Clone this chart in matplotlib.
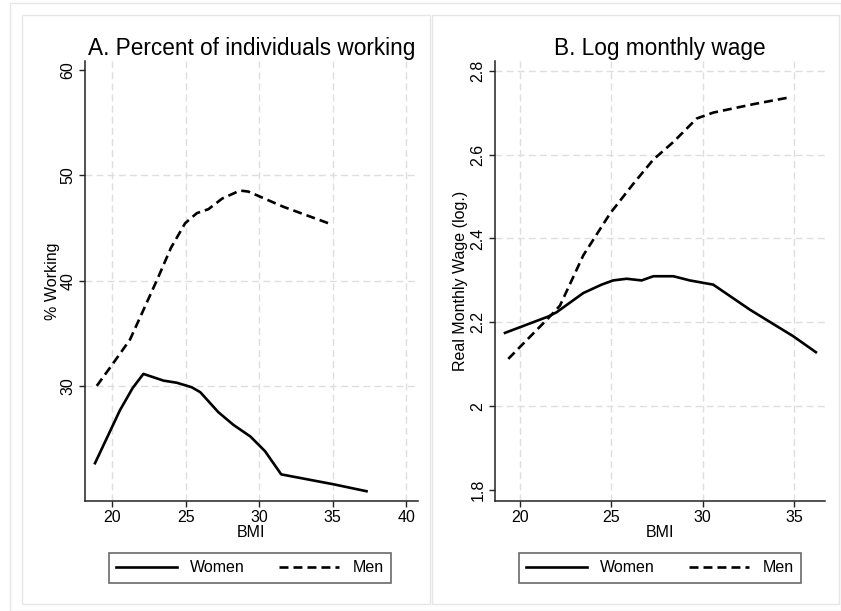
import matplotlib
matplotlib.use("Agg")
import matplotlib.pyplot as plt
from matplotlib.lines import Line2D
from matplotlib.patches import Rectangle

plt.rcParams['font.family'] = ['Liberation Sans', 'DejaVu Sans']

# panel A: percent working by BMI
bmi_w_a = [18.84, 20.54, 21.4, 22.13, 23.5, 24.4, 25.42, 26.0, 27.23, 28.25, 29.4, 30.4, 31.5, 35.05, 37.3]
work_w = [22.66, 27.7, 29.8, 31.14, 30.5, 30.3, 29.87, 29.4, 27.5, 26.3, 25.2, 23.8, 21.6, 20.66, 20.0]
bmi_m_a = [18.96, 20.0, 21.22, 22.13, 23.1, 24.0, 24.97, 25.76, 26.55, 27.5, 28.7, 29.27, 31.66, 34.7]
work_m = [30.0, 32.0, 34.4, 37.2, 40.2, 43.1, 45.45, 46.4, 46.78, 47.8, 48.55, 48.45, 47.0, 45.45]

# panel B: log monthly wage by BMI
bmi_w_b = [19.18, 21.55, 22.0, 22.19, 23.47, 24.47, 25.1, 25.84, 26.66, 27.3, 28.4, 29.3, 30.58, 32.6, 34.96, 36.2]
wage_w = [2.175, 2.214, 2.224, 2.23, 2.27, 2.29, 2.30, 2.304, 2.30, 2.31, 2.31, 2.30, 2.29, 2.23, 2.167, 2.129]
bmi_m_b = [19.36, 21.55, 22.19, 23.47, 24.94, 26.2, 27.3, 28.4, 29.68, 30.58, 32.77, 34.6]
wage_m = [2.113, 2.21, 2.24, 2.36, 2.46, 2.53, 2.588, 2.63, 2.686, 2.70, 2.72, 2.735]

W, H = 841, 611
fig = plt.figure(figsize=(W / 100, H / 100), dpi=100)
fig.patch.set_facecolor('white')

# faint frames around the figure and the two panels
border = '#e6e6e6'
for (x0, y0, x1, y1) in [(10, 3, 841, 611), (22, 15, 430, 604), (432, 15, 839, 604)]:
    fig.add_artist(Rectangle((x0 / W, 1 - y1 / H), (x1 - x0) / W, (y1 - y0) / H,
                             transform=fig.transFigure, fill=False,
                             edgecolor=border, lw=1.0))

lw = 1.9
dash = (0, (3.4, 1.9))
grid_kw = dict(color='#dedede', lw=1.0, linestyle=(0, (5, 3)), zorder=0)
fs = 11.5


def style_axis(ax, xt, yt, ylabels, ylab, title, ypad):
    for s in ['top', 'right']:
        ax.spines[s].set_visible(False)
    for s in ['left', 'bottom']:
        ax.spines[s].set_color('#222222')
        ax.spines[s].set_linewidth(1.1)
    ax.set_xticks(xt)
    ax.set_yticks(yt)
    ax.set_yticklabels(ylabels, rotation=90, va='center')
    ax.tick_params(axis='both', labelsize=fs, length=4, width=1.0,
                   color='#222222', pad=3)
    ax.set_xlabel('BMI', fontsize=fs, labelpad=0)
    ax.set_ylabel(ylab, fontsize=fs, labelpad=ypad)
    ax.set_title(title, fontsize=16.3, pad=4)


# panel A
ax1 = fig.add_axes([85 / W, 1 - 500.7 / H, (418 - 85) / W, (500.7 - 61) / H])
for gx in [20, 25, 30, 35, 40]:
    ax1.axvline(gx, **grid_kw)
for gy in [30, 40, 50]:
    ax1.axhline(gy, **grid_kw)
ax1.plot(bmi_w_a, work_w, color='black', lw=lw, solid_joinstyle='round')
ax1.plot(bmi_m_a, work_m, color='black', lw=lw, linestyle=dash)
ax1.set_xlim(18.16, 40.8)
ax1.set_ylim(19.1, 60.85)
style_axis(ax1, [20, 25, 30, 35, 40], [30, 40, 50, 60],
           ['30', '40', '50', '60'], '% Working',
           'A. Percent of individuals working', 0)

# panel B
ax2 = fig.add_axes([495.3 / W, 1 - 500.7 / H, (825 - 495.3) / W, (500.7 - 61) / H])
for gx in [20, 25, 30, 35]:
    ax2.axvline(gx, **grid_kw)
for gy in [2.0, 2.2, 2.4, 2.6, 2.8]:
    ax2.axhline(gy, **grid_kw)
ax2.plot(bmi_w_b, wage_w, color='black', lw=lw, solid_joinstyle='round')
ax2.plot(bmi_m_b, wage_m, color='black', lw=lw, linestyle=dash)
ax2.set_xlim(18.65, 36.7)
ax2.set_ylim(1.775, 2.823)
style_axis(ax2, [20, 25, 30, 35], [1.8, 2.0, 2.2, 2.4, 2.6, 2.8],
           ['1.8', '2', '2.2', '2.4', '2.6', '2.8'], 'Real Monthly Wage (log.)',
           'B. Log monthly wage', 2)

handles = [Line2D([], [], color='black', lw=lw),
           Line2D([], [], color='black', lw=lw, linestyle=dash)]
for cx in [250, 660]:
    leg = fig.legend(handles, ['Women', 'Men'], loc='center',
                     bbox_to_anchor=(cx / W, 1 - 568 / H), ncol=2,
                     fontsize=fs, frameon=True, fancybox=False,
                     handlelength=3.8, handletextpad=0.85, columnspacing=2.1,
                     borderpad=0.45, borderaxespad=0)
    leg.get_frame().set_edgecolor('#444444')
    leg.get_frame().set_linewidth(1.2)

fig.savefig('out.png', dpi=100, facecolor='white')
